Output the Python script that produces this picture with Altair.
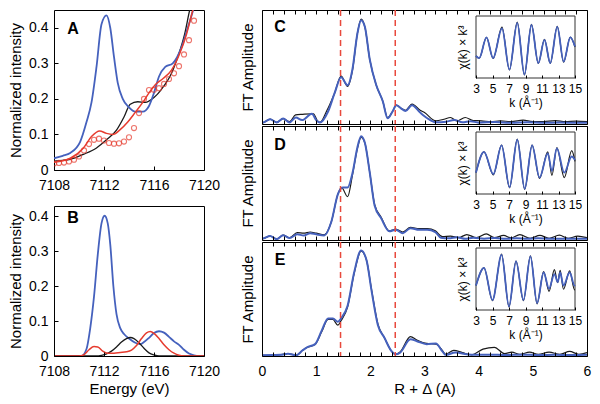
import altair as alt
import pandas as pd

FONT = "Liberation Sans"
BLUE = "#4561bd"
RED = "#e63b2e"
DASH_RED = "#e8493d"
BLACK = "#1a1a1a"

# ---------------- Panel A : XANES pre-edge ----------------
a_blue_E = [7108.0, 7108.7, 7109.3, 7110.1, 7110.6, 7111.0, 7111.4, 7111.8, 7112.2, 7112.5, 7112.8,
            7113.1, 7113.5, 7114.0, 7114.5, 7115.1, 7115.6, 7116.0, 7116.4, 7116.9, 7117.5, 7118.2,
            7118.7, 7119.1, 7119.5]
a_blue_I = [0.033, 0.040, 0.048, 0.080, 0.135, 0.19, 0.29, 0.41, 0.435, 0.40, 0.318,
            0.245, 0.20, 0.176, 0.164, 0.164, 0.18, 0.217, 0.263, 0.29, 0.300, 0.345,
            0.40, 0.446, 0.50]
a_black_E = [7108.0, 7108.7, 7109.3, 7110.35, 7111.4, 7112.2, 7113.0, 7113.6, 7114.1, 7114.7,
             7115.3, 7116.0, 7116.6, 7117.4, 7117.9, 7118.45, 7118.77, 7119.1]
a_black_I = [0.025, 0.027, 0.030, 0.044, 0.062, 0.085, 0.112, 0.149, 0.185, 0.192,
             0.19, 0.204, 0.227, 0.272, 0.318, 0.382, 0.436, 0.49]
a_red_E = [7108.0, 7108.7, 7109.3, 7110.35, 7111.0, 7111.65, 7112.2, 7112.7, 7113.25, 7113.9,
           7114.5, 7115.1, 7115.6, 7116.1, 7116.75, 7117.4, 7118.05, 7118.6, 7119.0, 7119.4]
a_red_I = [0.022, 0.026, 0.033, 0.062, 0.094, 0.110, 0.103, 0.100, 0.112, 0.135,
           0.162, 0.19, 0.217, 0.24, 0.258, 0.281, 0.327, 0.382, 0.436, 0.49]
a_pts_E = [7108.0, 7108.4, 7108.8, 7109.2, 7109.6, 7110.0, 7110.4, 7110.8, 7111.2, 7111.6,
           7112.0, 7112.4, 7112.8, 7113.2, 7113.6, 7114.0, 7114.4, 7114.8, 7115.2, 7115.6,
           7116.0, 7116.4, 7116.8, 7117.2, 7117.6, 7118.0, 7118.4, 7118.8, 7119.2]
a_pts_I = [0.018, 0.020, 0.021, 0.024, 0.029, 0.038, 0.055, 0.073, 0.085, 0.088,
           0.083, 0.076, 0.074, 0.075, 0.080, 0.092, 0.118, 0.160, 0.200, 0.225,
           0.226, 0.230, 0.242, 0.256, 0.272, 0.292, 0.325, 0.365, 0.420]

# ---------------- Panel B : fitted components ----------------
b_blue_E = [7108.0, 7110.2, 7110.6, 7110.9, 7111.2, 7111.5, 7111.8, 7112.05, 7112.3, 7112.5,
            7112.75, 7113.0, 7113.3, 7113.6, 7114.0, 7114.5, 7114.9, 7115.2, 7115.6, 7116.0,
            7116.4, 7116.8, 7117.2, 7117.6, 7118.0, 7118.4, 7118.8, 7119.2, 7119.6, 7120.0]
b_blue_I = [0.0, 0.0, 0.02, 0.08, 0.17, 0.29, 0.38, 0.402, 0.38, 0.32,
            0.20, 0.12, 0.08, 0.063, 0.05, 0.038, 0.034, 0.04, 0.052, 0.066,
            0.071, 0.067, 0.055, 0.042, 0.032, 0.018, 0.007, 0.002, 0.0, 0.0]
b_red_E = [7108.0, 7110.0, 7110.4, 7110.8, 7111.2, 7111.5, 7111.9, 7112.3, 7112.8, 7113.3,
           7113.8, 7114.2, 7114.6, 7115.0, 7115.4, 7115.7, 7116.0, 7116.4, 7116.8, 7117.2,
           7117.6, 7118.0, 7118.4, 7120.0]
b_red_I = [0.0, 0.0, 0.004, 0.018, 0.027, 0.026, 0.014, 0.008, 0.008, 0.01,
           0.012, 0.017, 0.03, 0.05, 0.066, 0.070, 0.065, 0.05, 0.032, 0.018,
           0.008, 0.002, 0.0, 0.0]
b_black_E = [7108.0, 7111.4, 7111.8, 7112.2, 7112.6, 7113.0, 7113.4, 7113.8, 7114.1, 7114.4,
             7114.8, 7115.2, 7115.6, 7116.0, 7116.4, 7120.0]
b_black_I = [0.0, 0.0, 0.002, 0.006, 0.014, 0.026, 0.04, 0.05, 0.053, 0.05,
             0.038, 0.022, 0.009, 0.003, 0.0, 0.0]

# ---------------- Panels C-E : Fourier transforms ----------------
c_blue_R = [0.0, 0.03, 0.15, 0.27, 0.39, 0.51, 0.625, 0.74, 0.92, 1.01, 1.07, 1.22, 1.34, 1.46,
            1.58, 1.67, 1.76, 1.83, 1.9, 1.99, 2.11, 2.23, 2.32, 2.41, 2.48, 2.56, 2.65, 2.77,
            2.92, 3.07, 3.21, 3.4, 3.55, 3.7, 3.85, 4.0, 4.3, 4.6, 4.9, 5.2, 5.5, 5.8, 6.0]
c_blue_A = [0.01, 0.014, 0.042, 0.014, 0.048, 0.014, 0.057, 0.034, 0.09, 0.028, 0.014, 0.11, 0.27,
            0.41, 0.34, 0.48, 0.79, 0.91, 0.85, 0.565, 0.34, 0.20, 0.05, 0.11, 0.165, 0.14, 0.115,
            0.165, 0.1, 0.045, 0.015, 0.02, 0.035, 0.015, 0.025, 0.012, 0.018, 0.01, 0.015, 0.01,
            0.014, 0.01, 0.01]
c_black_R = [0.0, 0.03, 0.15, 0.27, 0.39, 0.51, 0.62, 0.75, 0.95, 1.02, 1.07, 1.2, 1.34, 1.46,
             1.58, 1.67, 1.76, 1.83, 1.9, 1.99, 2.11, 2.23, 2.32, 2.41, 2.48, 2.56, 2.65, 2.77,
             2.92, 3.0, 3.21, 3.36, 3.48, 3.6, 3.75, 3.9, 4.05, 4.23, 4.4, 4.6, 4.82, 5.0, 5.2,
             5.42, 5.6, 5.8, 6.0]
c_black_A = [0.01, 0.014, 0.042, 0.014, 0.048, 0.02, 0.08, 0.085, 0.09, 0.03, 0.014, 0.12, 0.27,
             0.42, 0.33, 0.47, 0.79, 0.92, 0.85, 0.565, 0.34, 0.20, 0.055, 0.11, 0.165, 0.14, 0.12,
             0.175, 0.12, 0.1, 0.028, 0.042, 0.057, 0.028, 0.057, 0.03, 0.028, 0.02, 0.028, 0.02,
             0.034, 0.02, 0.022, 0.03, 0.02, 0.025, 0.02]

d_blue_R = [0.0, 0.03, 0.15, 0.27, 0.39, 0.51, 0.65, 0.77, 0.89, 1.0, 1.15, 1.28, 1.40, 1.49, 1.58,
            1.67, 1.76, 1.83, 1.9, 1.99, 2.08, 2.2, 2.35, 2.47, 2.6, 2.74, 2.9, 3.05, 3.2, 3.3,
            3.45, 3.6, 3.75, 3.9, 4.1, 4.3, 4.5, 4.7, 4.9, 5.1, 5.3, 5.5, 5.7, 5.9, 6.0]
d_blue_A = [0.01, 0.014, 0.034, 0.008, 0.042, 0.017, 0.05, 0.04, 0.06, 0.05, 0.04, 0.16, 0.40, 0.46,
            0.46, 0.585, 0.81, 0.91, 0.85, 0.59, 0.30, 0.19, 0.076, 0.09, 0.06, 0.104, 0.09, 0.09,
            0.07, 0.02, 0.015, 0.025, 0.01, 0.02, 0.012, 0.018, 0.01, 0.015, 0.01, 0.015, 0.01,
            0.012, 0.01, 0.01, 0.01]
d_black_R = [0.0, 0.03, 0.15, 0.27, 0.39, 0.51, 0.65, 0.77, 0.89, 1.0, 1.15, 1.28, 1.40, 1.47, 1.58,
             1.67, 1.76, 1.83, 1.9, 1.99, 2.08, 2.2, 2.35, 2.47, 2.6, 2.74, 2.9, 3.05, 3.2, 3.33,
             3.48, 3.63, 3.78, 3.96, 4.14, 4.29, 4.46, 4.6, 4.76, 4.95, 5.13, 5.3, 5.49, 5.65, 5.83,
             6.0]
d_black_A = [0.01, 0.014, 0.034, 0.008, 0.042, 0.02, 0.065, 0.06, 0.07, 0.06, 0.045, 0.16, 0.40,
             0.46, 0.38, 0.57, 0.80, 0.90, 0.85, 0.59, 0.31, 0.20, 0.08, 0.095, 0.07, 0.11, 0.1,
             0.1, 0.08, 0.03, 0.034, 0.02, 0.048, 0.02, 0.053, 0.02, 0.04, 0.018, 0.048, 0.015,
             0.04, 0.015, 0.042, 0.015, 0.034, 0.02]

e_blue_R = [0.0, 0.2, 0.35, 0.48, 0.63, 0.75, 0.83, 0.98, 1.1, 1.22, 1.31, 1.40, 1.46, 1.58, 1.70,
            1.83, 1.93, 2.02, 2.14, 2.26, 2.38, 2.47, 2.55, 2.74, 2.86, 3.04, 3.21, 3.33, 3.39,
            3.57, 3.87, 4.2, 4.5, 4.8, 5.1, 5.4, 5.7, 6.0]
e_blue_A = [0.006, 0.008, 0.01, 0.02, 0.006, 0.05, 0.076, 0.104, 0.22, 0.33, 0.33, 0.30, 0.33, 0.44,
            0.73, 0.925, 0.84, 0.58, 0.27, 0.16, 0.05, 0.015, 0.03, 0.147, 0.13, 0.104, 0.11, 0.04,
            0.01, 0.03, 0.01, 0.012, 0.008, 0.012, 0.008, 0.01, 0.008, 0.01]
e_black_R = [0.0, 0.2, 0.35, 0.48, 0.63, 0.75, 0.83, 0.98, 1.1, 1.22, 1.31, 1.40, 1.46, 1.58, 1.70,
             1.83, 1.93, 2.02, 2.14, 2.26, 2.38, 2.47, 2.55, 2.74, 2.86, 3.04, 3.21, 3.33, 3.39,
             3.54, 3.7, 3.87, 4.08, 4.29, 4.48, 4.61, 4.76, 4.94, 5.1, 5.3, 5.5, 5.68, 5.85, 6.0]
e_black_A = [0.006, 0.008, 0.012, 0.022, 0.006, 0.05, 0.074, 0.10, 0.21, 0.32, 0.32, 0.27, 0.31, 0.43,
             0.72, 0.92, 0.84, 0.59, 0.28, 0.16, 0.05, 0.015, 0.035, 0.17, 0.14, 0.11, 0.105, 0.05,
             0.015, 0.05, 0.03, 0.01, 0.06, 0.076, 0.02, 0.034, 0.015, 0.034, 0.015, 0.034, 0.015,
             0.04, 0.015, 0.03]

fit_window_R = [1.45, 2.46]

# ---------------- insets : chi(k) * k^3 ----------------
c_in_k = [3.0, 3.39, 4.27, 5.07, 6.15, 7.05, 8.0, 8.87, 9.72, 10.55, 11.3, 12.0, 12.85, 13.62, 14.43, 15.0]
c_in_blue = [-0.29, -0.36, 0.31, -0.36, 0.60, -0.73, 0.78, -0.89, 0.71, -0.52, 0.23, -0.52, 0.65, -0.47, 0.31, 0.02]
c_in_black = [-0.29, -0.36, 0.31, -0.37, 0.64, -0.74, 0.80, -0.90, 0.73, -0.53, 0.25, -0.53, 0.67, -0.49, 0.32, 0.0]

d_in_k = [3.0, 3.97, 5.1, 6.1, 7.07, 8.0, 8.9, 9.8, 10.7, 11.7, 12.2, 12.8, 13.7, 14.6, 15.0]
d_in_blue = [-0.31, 0.36, -0.36, 0.57, -0.78, 0.75, -0.83, 0.57, -0.47, 0.31, -0.26, 0.47, -0.31, 0.21, 0.10]
d_in_black = [-0.31, 0.36, -0.38, 0.58, -0.80, 0.77, -0.85, 0.58, -0.50, 0.36, -0.40, 0.50, -0.47, 0.40, 0.05]

e_in_k = [3.0, 3.97, 5.0, 6.1, 7.0, 7.85, 8.75, 9.6, 10.4, 11.2, 11.85, 12.5, 12.9, 13.2, 13.6, 14.35, 14.95, 15.0]
e_in_blue = [-0.21, 0.36, -0.68, 0.78, -0.89, 0.57, -0.68, 0.73, -0.78, 0.21, -0.31, 0.16, -0.1, 0.21, -0.21, 0.21, -0.21, -0.2]
e_in_black = [-0.21, 0.36, -0.70, 0.80, -0.90, 0.58, -0.70, 0.75, -0.80, 0.24, -0.40, 0.30, -0.12, 0.28, -0.33, 0.26, -0.35, -0.35]

energy_ticks = [7108, 7112, 7116, 7120]
intensity_ticks = [0, 0.1, 0.2, 0.3, 0.4]
r_ticks = [0, 0.2, 0.4, 0.6, 0.8, 1, 1.2, 1.4, 1.6, 1.8, 2, 2.2, 2.4, 2.6, 2.8, 3, 3.2, 3.4, 3.6,
           3.8, 4, 4.2, 4.4, 4.6, 4.8, 5, 5.2, 5.4, 5.6, 5.8, 6]
k_ticks = [3, 5, 7, 9, 11, 13, 15]

# ---------------- geometry ----------------
WL, HA, HB = 150, 160, 150
WR, HR = 325, 114
IN_L, IN_R, IN_T, IN_B = 214, 313, 6, 68


def mk_df(x, y):
    return pd.DataFrame({"x": x, "y": y})


def letter_layer(ch, px, py):
    return alt.Chart(pd.DataFrame({"t": [ch]})).mark_text(
        font=FONT, fontSize=16, fontWeight="bold", align="center", baseline="alphabetic", color="black"
    ).encode(text="t:N", x=alt.value(px), y=alt.value(py))


def energy_panel(series, points, ydom, height, xtitle, letter, letter_y):
    xs = alt.Scale(domain=[7108, 7120], nice=False, zero=False)
    ys = alt.Scale(domain=ydom, nice=False, zero=False)
    xaxis = alt.Axis(values=energy_ticks, format="d", labelFlush=False, labelOverlap=False,
                     offset=-4, tickSize=4, domain=False, grid=False, labelPadding=8,
                     title=xtitle, titlePadding=3, zindex=1)
    yaxis = alt.Axis(values=intensity_ticks,
                     labelExpr="datum.value == 0 ? '0' : format(datum.value, '.1f')",
                     offset=-4, tickSize=4, domain=False, grid=False, labelPadding=6,
                     title="Normalized intensity", titlePadding=5, minExtent=0, labelOverlap=False,
                     zindex=1)
    layers = []
    for (xv, yv, color, width) in series:
        layers.append(alt.Chart(mk_df(xv, yv)).mark_line(
            color=color, strokeWidth=width, interpolate="monotone", clip=True
        ).encode(
            x=alt.X("x:Q", scale=xs, axis=xaxis),
            y=alt.Y("y:Q", scale=ys, axis=yaxis),
        ))
    if points is not None:
        layers.append(alt.Chart(mk_df(points[0], points[1])).mark_point(
            shape="circle", filled=False, color=RED, size=26, strokeWidth=1.1, clip=True
        ).encode(x=alt.X("x:Q", scale=xs, axis=xaxis), y=alt.Y("y:Q", scale=ys, axis=yaxis)))
    layers.append(letter_layer(letter, 19, letter_y))
    return alt.layer(*layers).properties(width=WL, height=height)


def ft_panel(black, blue, inset_k, inset_black, inset_blue, letter, letter_y, show_labels):
    xs = alt.Scale(domain=[0, 6], nice=False, zero=False)
    ys = alt.Scale(domain=[0, 1], nice=False, zero=False)
    bottom_axis = alt.Axis(
        values=r_ticks,
        labelExpr="abs(datum.value - round(datum.value)) < 0.01 ? '' + round(datum.value) : ''",
        labels=show_labels, offset=-4, tickSize=4, domain=False, grid=False, labelPadding=8,
        labelFlush=False, labelOverlap=False,
        title="R + Δ (A)" if show_labels else None, titlePadding=3, zindex=1)
    top_axis = alt.Axis(orient="top", values=r_ticks, labels=False, offset=-4, tickSize=4,
                        domain=False, grid=False, title=None, zindex=1)
    yaxis = alt.Axis(title="FT Amplitude", labels=False, ticks=False, domain=False, grid=False,
                     titlePadding=7, minExtent=0)
    l_black = alt.Chart(mk_df(*black)).mark_line(
        color=BLACK, strokeWidth=1.2, interpolate="monotone", clip=True
    ).encode(x=alt.X("x:Q", scale=xs, axis=bottom_axis), y=alt.Y("y:Q", scale=ys, axis=yaxis))
    l_blue = alt.Chart(mk_df(*blue)).mark_line(
        color=BLUE, strokeWidth=2, interpolate="monotone", clip=True
    ).encode(x=alt.X("x:Q", scale=xs, axis=None), y=alt.Y("y:Q", scale=ys, axis=yaxis))
    rules = alt.Chart(pd.DataFrame({"x": fit_window_R})).mark_rule(
        color=DASH_RED, strokeDash=[6, 4], strokeWidth=1.5
    ).encode(x=alt.X("x:Q", scale=xs, axis=top_axis))
    main = alt.layer(l_black, l_blue, rules, letter_layer(letter, 18, letter_y)).resolve_axis(x="independent")

    kx = alt.Scale(domain=[3, 15], range=[IN_L, IN_R], nice=False, zero=False)
    ky = alt.Scale(domain=[-1, 1], range=[IN_B, IN_T], nice=False, zero=False)
    in_xaxis = alt.Axis(orient="bottom", values=k_ticks, format="d", offset=(IN_B - HR) - 3,
                        tickSize=3, domain=False, grid=False, labelPadding=5, labelFontSize=12,
                        labelFlush=False, labelOverlap=False, title="k (Å⁻¹)", titleFontSize=12,
                        titlePadding=3, zindex=1)
    in_yaxis = alt.Axis(orient="left", labels=False, ticks=False, domain=False, grid=False,
                        offset=-IN_L, title="χ(k) × k³", titleFontSize=12, titlePadding=7, minExtent=0)
    frame = alt.Chart(pd.DataFrame({"k0": [3], "k1": [15], "c0": [-1], "c1": [1]})).mark_rect(
        filled=False, color="#333333", strokeWidth=1
    ).encode(x=alt.X("k0:Q", scale=kx, axis=in_xaxis), x2="k1:Q",
             y=alt.Y("c0:Q", scale=ky, axis=in_yaxis), y2="c1:Q")
    i_black = alt.Chart(mk_df(inset_k, inset_black)).mark_line(
        color=BLACK, strokeWidth=1.2, interpolate="monotone"
    ).encode(x=alt.X("x:Q", scale=kx, axis=in_xaxis), y=alt.Y("y:Q", scale=ky, axis=in_yaxis))
    i_blue = alt.Chart(mk_df(inset_k, inset_blue)).mark_line(
        color=BLUE, strokeWidth=1.8, interpolate="monotone"
    ).encode(x=alt.X("x:Q", scale=kx, axis=in_xaxis), y=alt.Y("y:Q", scale=ky, axis=in_yaxis))
    inset = alt.layer(frame, i_black, i_blue)
    return alt.layer(main, inset).resolve_scale(x="independent", y="independent").properties(
        width=WR, height=HR)


panel_a = energy_panel(
    [(a_black_E, a_black_I, BLACK, 1.3), (a_blue_E, a_blue_I, BLUE, 1.8), (a_red_E, a_red_I, RED, 1.5)],
    (a_pts_E, a_pts_I), [0, 0.45], HA, None, "A", 24)
panel_b = energy_panel(
    [(b_blue_E, b_blue_I, BLUE, 1.8), (b_black_E, b_black_I, BLACK, 1.3), (b_red_E, b_red_I, RED, 1.5)],
    None, [0, 0.43], HB, "Energy (eV)", "B", 17)

panel_c = ft_panel((c_black_R, c_black_A), (c_blue_R, c_blue_A), c_in_k, c_in_black, c_in_blue, "C", 22, False)
panel_d = ft_panel((d_black_R, d_black_A), (d_blue_R, d_blue_A), d_in_k, d_in_black, d_in_blue, "D", 24, False)
panel_e = ft_panel((e_black_R, e_black_A), (e_blue_R, e_blue_A), e_in_k, e_in_black, e_in_blue, "E", 23, True)

left = alt.vconcat(panel_a, panel_b, spacing=36, bounds="flush")
right = alt.vconcat(panel_c, panel_d, panel_e, spacing=2, bounds="flush")

chart = alt.hconcat(left, right, spacing=18).properties(padding=0).configure_view(
    stroke="black", strokeWidth=1
).configure_axis(
    labelFont=FONT, titleFont=FONT, labelFontSize=14, titleFontSize=15, titleFontWeight="normal",
    labelColor="black", titleColor="black", tickColor="black", tickWidth=1
)

chart.save("out.html", embed_options={"renderer": "svg", "actions": False})
